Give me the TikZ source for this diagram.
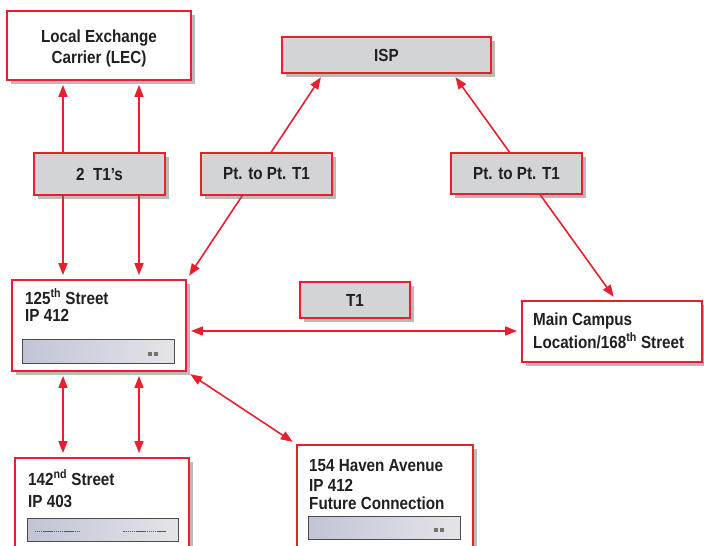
\documentclass[tikz,border=0pt]{standalone}
\usepackage{fontspec}
\setmainfont{Liberation Sans}[FakeStretch=0.87]
\usetikzlibrary{shadows,arrows.meta,calc}
\definecolor{lred}{HTML}{E8202E}
\definecolor{bgray}{HTML}{D3D4D6}
\definecolor{ink}{HTML}{231F20}
\begin{document}
\begin{tikzpicture}[x=1pt,y=-1pt,
 box/.style={draw=lred, line width=1.8pt, fill=white, inner sep=0,
   drop shadow={shadow xshift=3.5pt, shadow yshift=-3.5pt, opacity=0.45, fill=black!60}},
 gbox/.style={box, fill=bgray},
 lbl/.style={font=\fontsize{17.5}{20}\selectfont\bfseries, inner sep=0, text=ink},
 conn/.style={draw=lred, line width=1.6pt,
   {Triangle[length=12pt,width=9pt]}-{Triangle[length=12pt,width=9pt]},
   shorten <=4pt, shorten >=4pt},
 devbar/.style={draw=black!70, line width=0.8pt, inner sep=0,
   left color={rgb,255:red,192;green,196;blue,214},
   right color={rgb,255:red,228;green,228;blue,232}},
 dot/.style={fill=black!55, inner sep=0, minimum size=3.5pt}
]
\useasboundingbox (0,0) rectangle (704,546);

% endpoint boxes
\node[box, minimum width=184, minimum height=69] (lec) at (99,45.5) {};
\node[lbl, anchor=base] (lec1) at (99,42) {Local Exchange};
\node[lbl, anchor=base] (lec2) at (99,63) {Carrier (LEC)};

\node[gbox, minimum width=209, minimum height=36] (isp) at (386.5,55) {};
\node[lbl] (ispt) at (386.5,55) {ISP};

\node[box, minimum width=174, minimum height=91] (s125) at (99,325.5) {};
\node[lbl, anchor=base west] (s125a) at (25,304) {125\textsuperscript{th} Street};
\node[lbl, anchor=base west] (s125b) at (25,321) {IP 412};
\node[devbar, minimum width=152, minimum height=24] (d125) at (98,351) {};
\node[dot] (d125a) at (150,354) {};
\node[dot] (d125b) at (156,354) {};

\node[box, minimum width=180, minimum height=61] (main) at (612,331.5) {};
\node[lbl, anchor=base west] (maina) at (533,325) {Main Campus};
\node[lbl, anchor=base west] (mainb) at (533,348) {Location/168\textsuperscript{th} Street};

\node[box, minimum width=174, minimum height=102] (s142) at (102,509) {};
\node[lbl, anchor=base west] (s142a) at (28,485) {142\textsuperscript{nd} Street};
\node[lbl, anchor=base west] (s142b) at (28,507) {IP 403};
\node[devbar, minimum width=151, minimum height=23] (d142) at (102.5,529.5) {};
\draw[black!65, line width=1.5pt, dash pattern=on 1.5pt off 0.6pt] (d142.west) ++(8,2) -- ++(45,0);
\draw[black!65, line width=1.5pt, dash pattern=on 1.5pt off 0.6pt] (d142.east) ++(-55,2) -- ++(43,0);

\node[box, minimum width=176, minimum height=115] (haven) at (385,502.5) {};
\node[lbl, anchor=base west] (havena) at (309,471) {154 Haven Avenue};
\node[lbl, anchor=base west] (havenb) at (309,491) {IP 412};
\node[lbl, anchor=base west] (havenc) at (309,509) {Future Connection};
\node[devbar, minimum width=152, minimum height=23] (dhav) at (384,527.5) {};
\node[dot] (dhava) at (436,530) {};
\node[dot] (dhavb) at (442,530) {};

% connectors
\coordinate (xa) at (63,0);
\coordinate (xb) at (139,0);
\coordinate (yh) at (0,331);
\draw[conn] (lec.south -| xa) -- (s125.north -| xa);
\draw[conn] (lec.south -| xb) -- (s125.north -| xb);
\draw[conn] ($(isp.south west)+(42,0)$) -- (s125.north east);
\draw[conn] ($(isp.south west)+(172,0)$) -- ($(main.north west)+(95,0)$);
\draw[conn] (s125.east |- yh) -- (main.west |- yh);
\draw[conn] (s125.south -| xa) -- (s142.north -| xa);
\draw[conn] (s125.south -| xb) -- (s142.north -| xb);
\draw[conn] (s125.south east) -- (haven.north west);

% label boxes over the lines
\node[gbox, minimum width=131, minimum height=42] (t1s) at (99.5,174) {};
\node[lbl] (t1st) at (99.5,174) {2\ \ T1's};
\node[gbox, minimum width=131, minimum height=42] (ptl) at (266.5,174) {};
\node[lbl] (ptlt) at (266.5,174) {Pt. to Pt. T1};
\node[gbox, minimum width=131, minimum height=41] (ptr) at (516.5,173.5) {};
\node[lbl] (ptrt) at (516.5,173.5) {Pt. to Pt. T1};
\node[gbox, minimum width=110, minimum height=36] (t1) at (355,300) {};
\node[lbl] (t1t) at (355,300) {T1};
\end{tikzpicture}
\end{document}
